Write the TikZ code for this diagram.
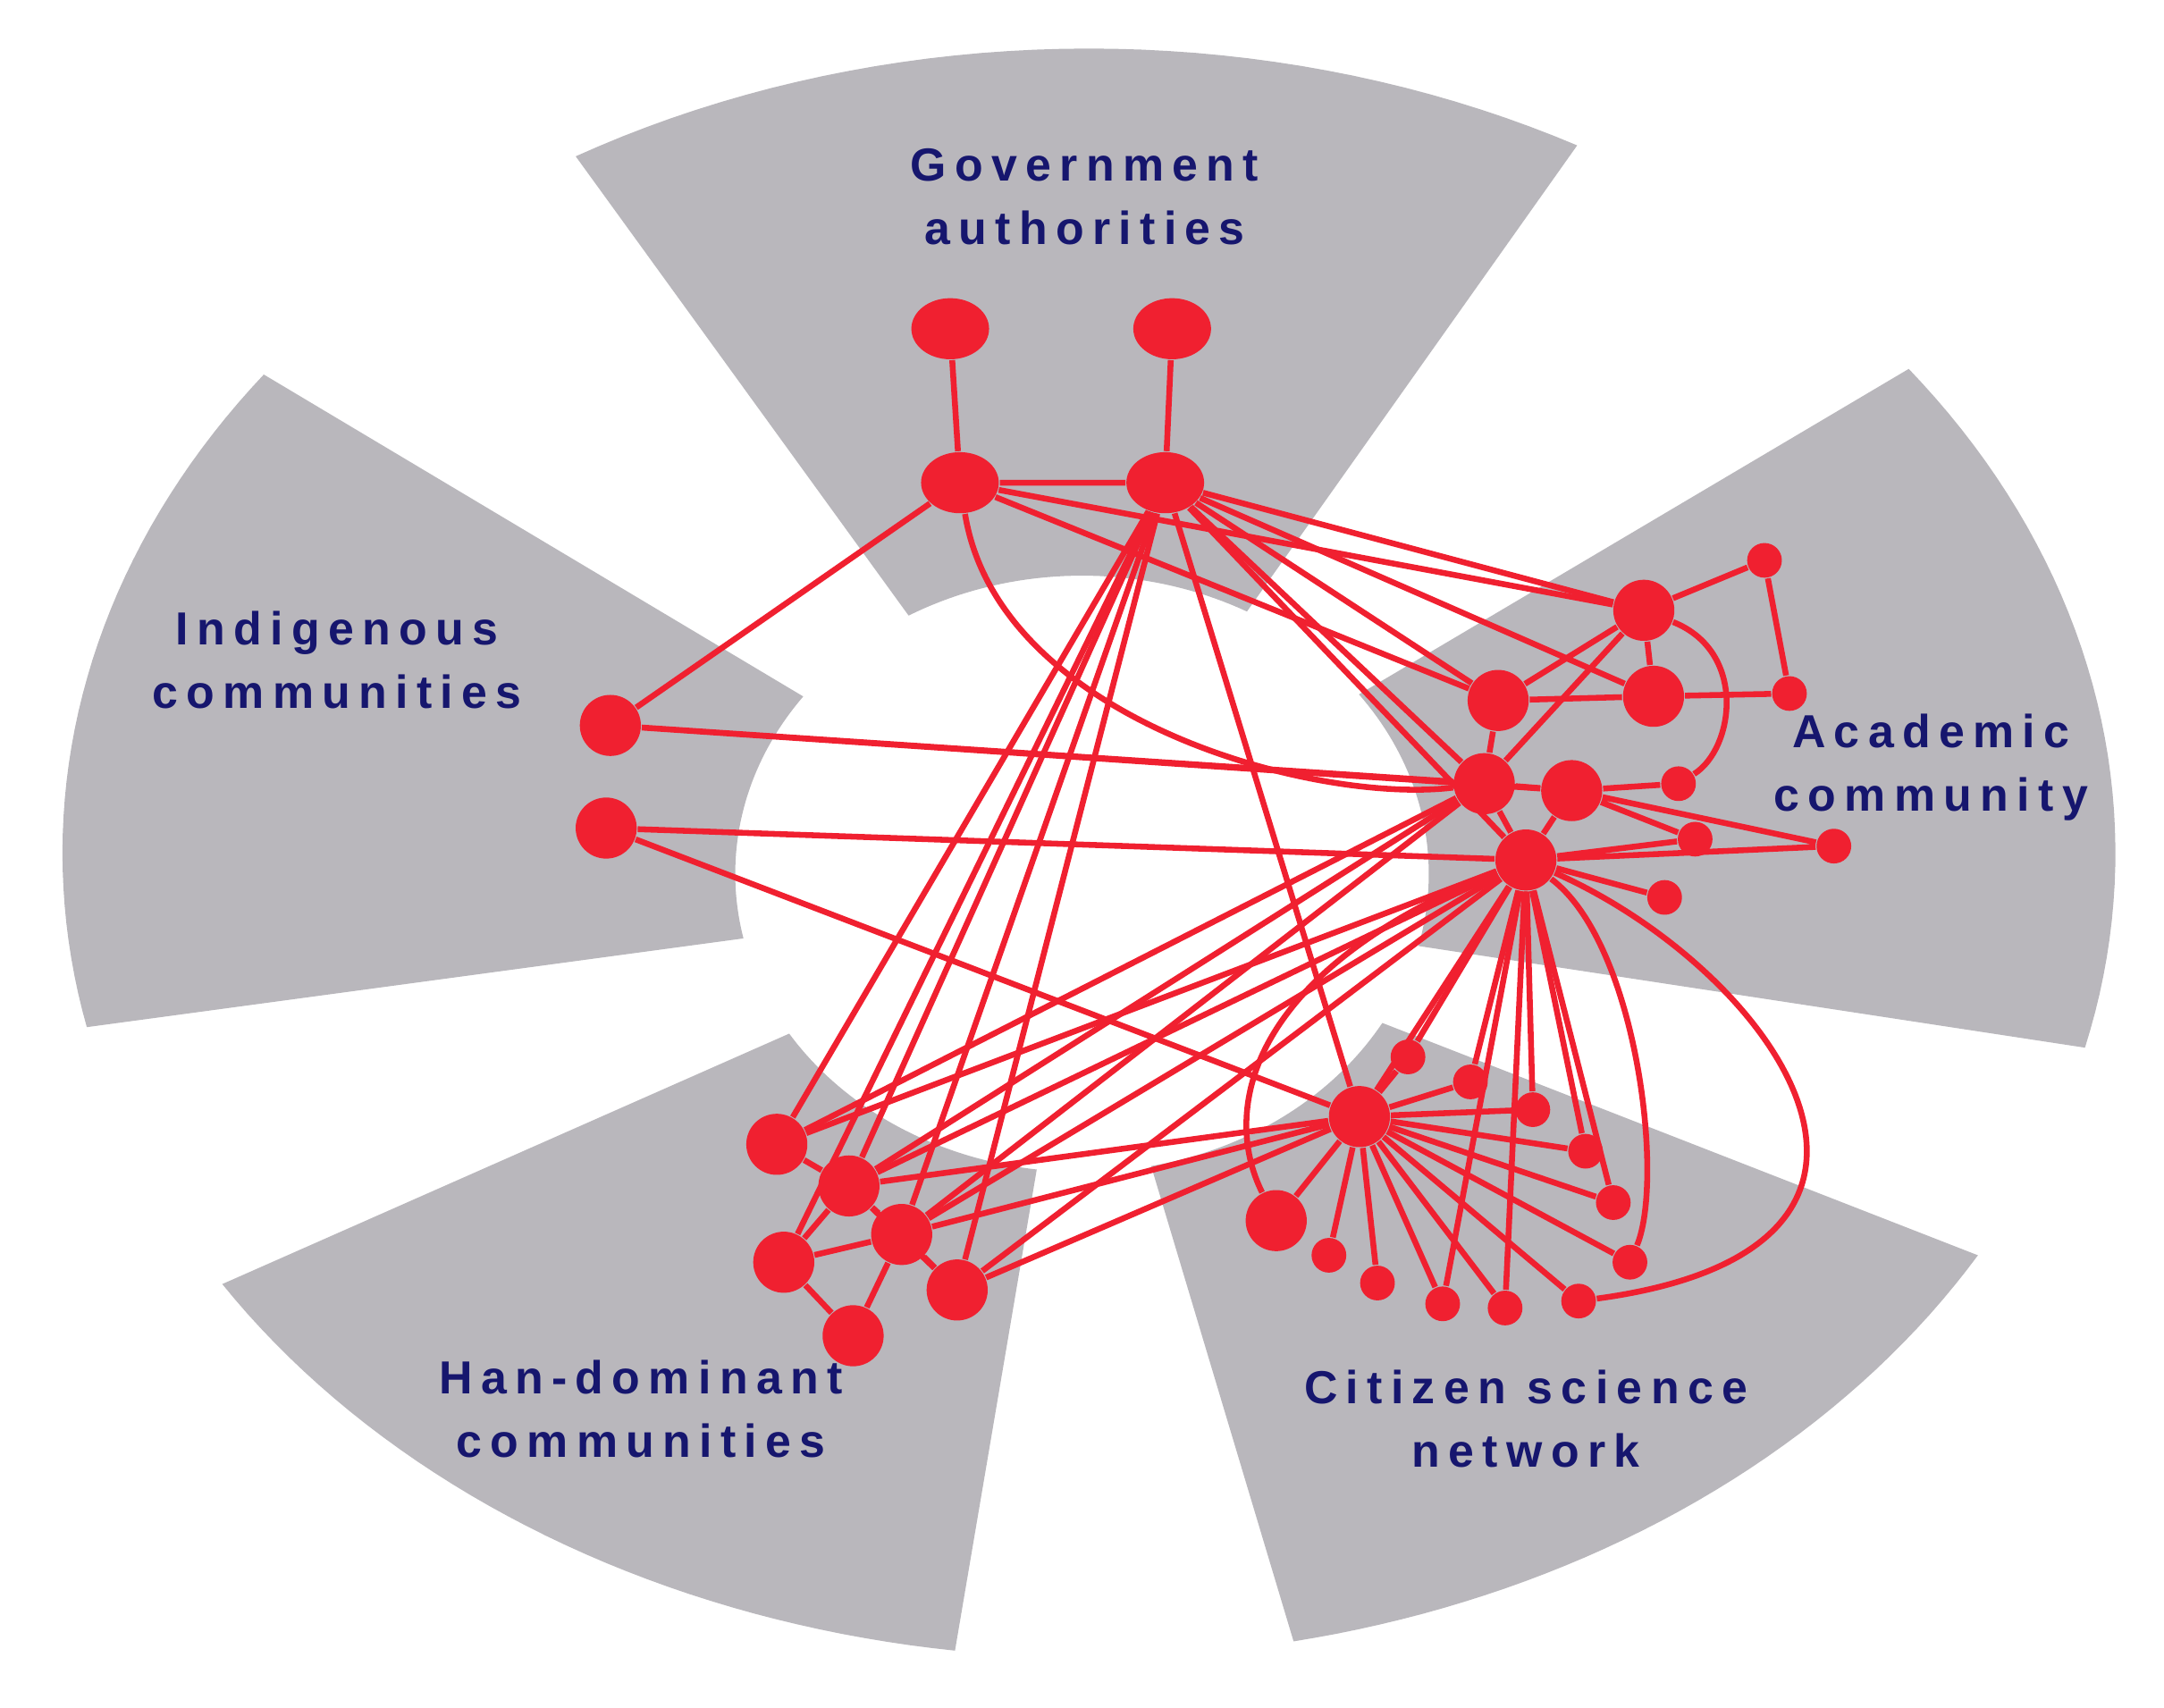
\documentclass[tikz,border=0pt]{standalone}
\usepackage{fontspec}
\setmainfont{Liberation Sans}
\newfontfamily\lbl[LetterSpace=18]{Liberation Sans}
\definecolor{sectgrey}{RGB}{185,183,188}
\definecolor{netred}{RGB}{240,32,48}
\definecolor{navy}{RGB}{22,22,110}
\tikzset{
  big/.style={ellipse,fill=netred,inner sep=0,minimum width=0.56cm,minimum height=0.44cm},
  mid/.style={circle,fill=netred,inner sep=0,minimum size=0.44cm},
  tiny/.style={circle,fill=netred,inner sep=0,minimum size=0.25cm},
  link/.style={draw=netred,line width=1.2pt},
  group/.style={text=navy,font=\lbl\bfseries\fontsize{9.5}{13}\selectfont,align=center}
}
\usetikzlibrary{shapes.geometric}
\begin{document}
\begin{tikzpicture}[x=0.01cm,y=-0.01cm]
\useasboundingbox (0,0) rectangle (1560,1231);
% sectors
\foreach \a/\b in {61.6/120, -14/37, -78.5/-30, -147.6/-97.5, 143.5/192.5}
  \fill[sectgrey] plot[domain=\a:\b,samples=40] ({785+740*cos(\x)},{615-580*sin(\x)})
    -- plot[domain=\b:\a,samples=40] ({780+250*cos(\x)},{630-215*sin(\x)}) -- cycle;
% labels
\node[group] at (782,142) {Government\\authorities};
\node[group] at (243,476) {Indigenous\\communities};
\node[group] at (1392,553) {Academic\\community};
\node[group] at (462,1016) {Han-dominant\\communities};
\node[group] at (1100,1023) {Citizen science\\network};
% government
\node[big] (g1) at (685,237) {};
\node[big] (g2) at (845,237) {};
\node[big] (g3) at (692,348) {};
\node[big] (g4) at (840,348) {};
% indigenous
\node[mid] (i1) at (440,523) {};
\node[mid] (i2) at (437,597) {};
% academic
\node[mid] (a1) at (1185,440) {};
\node[tiny] (a2) at (1272,404) {};
\node[tiny] (a3) at (1290,500) {};
\node[mid] (a4) at (1080,505) {};
\node[mid] (a5) at (1192,502) {};
\node[mid] (a6) at (1070,565) {};
\node[mid] (a7) at (1133,570) {};
\node[tiny] (a8) at (1210,565) {};
\node[tiny] (a9) at (1222,605) {};
\node[tiny] (a10) at (1322,610) {};
\node[tiny] (a11) at (1200,647) {};
\node[mid] (a12) at (1100,620) {};
% han
\node[mid] (h1) at (560,825) {};
\node[mid] (h2) at (612,855) {};
\node[mid] (h3) at (650,890) {};
\node[mid] (h4) at (565,910) {};
\node[mid] (h5) at (690,930) {};
\node[mid] (h6) at (615,963) {};
% citizen
\node[mid] (c0) at (980,805) {};
\node[mid] (c1) at (920,880) {};
\foreach \n/\x/\y in {1/1015/762, 2/1060/780, 3/1105/800, 4/1143/830, 5/1163/867, 6/1175/910,
    7/1138/938, 8/1085/943, 9/1040/940, 10/993/925, 11/958/905}
  \node[tiny] (s\n) at (\x,\y) {};
% links
\draw[link] (g1) -- (g3) (g2) -- (g4) (g3) -- (g4) (g3) -- (i1) (g3) -- (a1) (g3) -- (a4);
\draw[link] (g3) .. controls (720,520) and (950,580) .. (a6);
\foreach \t in {a1,a4,a5,a6,a12,h1,h2,h3,h5,c0}
  \draw[link] (g4) -- (\t);
\draw[link] (g4) -- (h4);
\draw[link] (i1) -- (a6) (i1) -- (a7) (i2) -- (a12) (i2) -- (c0);
\draw[link] (a1) -- (a2) (a2) -- (a3) (a3) -- (a5) (a1) -- (a4) (a1) -- (a5) (a4) -- (a5)
  (a4) -- (a6) (a6) -- (a7) (a7) -- (a8) (a7) -- (a9) (a7) -- (a10) (a6) -- (a12)
  (a12) -- (a11) (a12) -- (a10) (a12) -- (a9) (a7) -- (a12);
\draw[link] (a1) .. controls (1260,470) and (1250,540) .. (a8);
\draw[link] (a1) -- (a6);
\foreach \t in {h1,h2,h3}
  \draw[link] (a6) -- (\t);
\foreach \t in {h1,h2,h3,h5,c0,s1,s2,s3,s4,s5,s8,s9}
  \draw[link] (a12) -- (\t);
\draw[link] (a12) .. controls (1180,680) and (1200,850) .. (s6);
\draw[link] (a12) .. controls (1280,700) and (1420,900) .. (s7);
\draw[link] (a12) .. controls (900,700) and (880,800) .. (c1);
\foreach \n in {1,...,11}
  \draw[link] (c0) -- (s\n);
\draw[link] (c0) -- (c1);
\foreach \t in {h2,h3,h5}
  \draw[link] (c0) -- (\t);
\draw[link] (h1) -- (h2) (h2) -- (h3) (h2) -- (h4) (h3) -- (h4) (h4) -- (h6)
  (h3) -- (h6) (h2) -- (h5) (h3) -- (h5);
\end{tikzpicture}
\end{document}
